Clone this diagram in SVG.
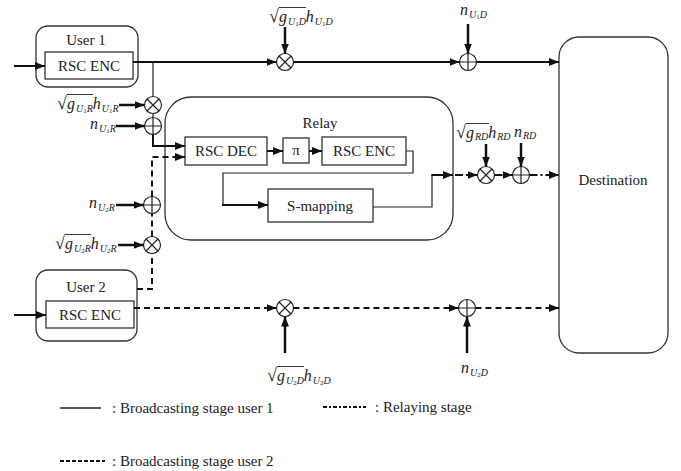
<svg xmlns="http://www.w3.org/2000/svg" width="681" height="471" viewBox="0 0 681 471" font-family="'Liberation Serif', 'Times New Roman', serif">
<defs>
<marker id="ah" viewBox="0 0 10 8" refX="10" refY="4" markerWidth="10" markerHeight="8" markerUnits="userSpaceOnUse" orient="auto"><path d="M0,0 L10,4 L0,8 Z" fill="#111"/></marker>
<style>
text{font-family:'Liberation Serif','Times New Roman',serif;fill:#222}
.t{font-size:15px}
.m{font-size:16px;font-style:italic}
.s{font-size:10px;font-style:italic}
.s1{font-size:7px;font-style:normal}
.rt{font-size:18px;font-style:normal}
.box{fill:#fff;stroke:#333;stroke-width:1.3}
.sol{fill:none;stroke:#111;stroke-width:2}
.thin{fill:none;stroke:#222;stroke-width:1.2}
.dash{fill:none;stroke:#111;stroke-width:2;stroke-dasharray:6,4}
.dd{fill:none;stroke:#111;stroke-width:2;stroke-dasharray:8,3,2,3}
.inp{fill:none;stroke:#111;stroke-width:2.5}
.op{fill:#fff;stroke:#222;stroke-width:1.2}
.ov{stroke:#222;stroke-width:0.9}
</style>
</defs>

<g id="user1">
<rect class="box" x="36" y="26" width="102" height="61" rx="12"/>
<text class="t" x="86" y="45" text-anchor="middle">User 1</text>
<rect class="box" x="45" y="52" width="88" height="27"/>
<text class="t" x="89" y="71" text-anchor="middle">RSC ENC</text>
</g>

<g id="user2">
<rect class="box" x="36" y="270" width="101" height="71" rx="12"/>
<text class="t" x="86" y="292" text-anchor="middle">User 2</text>
<rect class="box" x="46" y="301" width="88" height="27"/>
<text class="t" x="90" y="320" text-anchor="middle">RSC ENC</text>
</g>

<g id="relay">
<rect class="box" x="165" y="97" width="288" height="143" rx="26"/>
<text class="t" x="320" y="128" text-anchor="middle">Relay</text>
</g>
<g id="rscdec">
<rect class="box" x="185" y="137" width="82" height="28"/>
<text class="t" x="226" y="156" text-anchor="middle">RSC DEC</text>
</g>
<g id="pi">
<rect class="box" x="283" y="138" width="26" height="25"/>
<text class="t" x="296" y="155" text-anchor="middle">π</text>
</g>
<g id="rscenc_relay">
<rect class="box" x="322" y="137" width="84" height="28"/>
<text class="t" x="364" y="156" text-anchor="middle">RSC ENC</text>
</g>
<g id="smapping">
<rect class="box" x="268" y="189" width="105" height="33"/>
<text class="t" x="320" y="211" text-anchor="middle">S-mapping</text>
</g>
<g id="destination">
<rect class="box" x="559" y="37" width="109" height="316" rx="20"/>
<text class="t" x="613" y="185" text-anchor="middle">Destination</text>
</g>

<g id="operators">
<g id="mul_u1d"><circle class="op" cx="285" cy="62" r="8.5"/><path class="thin" d="M279,56 L291,68 M291,56 L279,68"/></g>
<g id="add_u1d"><circle class="op" cx="468" cy="62" r="8.5"/><path class="thin" d="M468,53.5 V70.5 M459.5,62 H476.5"/></g>
<g id="mul_u1r"><circle class="op" cx="153" cy="105" r="8.5"/><path class="thin" d="M147,99 L159,111 M159,99 L147,111"/></g>
<g id="add_u1r"><circle class="op" cx="153" cy="126" r="8.5"/><path class="thin" d="M153,117.5 V134.5 M144.5,126 H161.5"/></g>
<g id="add_u2r"><circle class="op" cx="152" cy="205" r="8.5"/><path class="thin" d="M152,196.5 V213.5 M143.5,205 H160.5"/></g>
<g id="mul_u2r"><circle class="op" cx="152" cy="245" r="8.5"/><path class="thin" d="M146,239 L158,251 M158,239 L146,251"/></g>
<g id="mul_rd"><circle class="op" cx="486" cy="175" r="8.5"/><path class="thin" d="M480,169 L492,181 M492,169 L480,181"/></g>
<g id="add_rd"><circle class="op" cx="521" cy="175" r="8.5"/><path class="thin" d="M521,166.5 V183.5 M512.5,175 H529.5"/></g>
<g id="mul_u2d"><circle class="op" cx="285" cy="308" r="8.5"/><path class="thin" d="M279,302 L291,314 M291,302 L279,314"/></g>
<g id="add_u2d"><circle class="op" cx="467" cy="308" r="8.5"/><path class="thin" d="M467,299.5 V316.5 M458.5,308 H475.5"/></g>
</g>

<g id="connectors">
<path class="sol" d="M14,66 H45" marker-end="url(#ah)"/>
<path class="sol" d="M14,315 H46" marker-end="url(#ah)"/>
<path class="sol" d="M133,62 H276.5" marker-end="url(#ah)"/>
<path class="sol" d="M293.5,62 H459.5" marker-end="url(#ah)"/>
<path class="sol" d="M476.5,62 H559" marker-end="url(#ah)"/>
<path class="thin" d="M153,62 V96.5 M153,113.5 V117.5"/>
<path class="sol" d="M153,134.5 V146 H185" marker-end="url(#ah)"/>
<path class="dash" d="M137,289 H152 V253.5 M152,236.5 V213.5"/>
<path class="dash" d="M152,196.5 V157 H185" marker-end="url(#ah)"/>
<path class="dash" d="M134,308 H276.5" marker-end="url(#ah)"/>
<path class="dash" d="M293.5,308 H458.5" marker-end="url(#ah)"/>
<path class="dash" d="M475.5,308 H559" marker-end="url(#ah)"/>
<path class="sol" d="M267,151 H283" marker-end="url(#ah)"/>
<path class="sol" d="M309,151 H322" marker-end="url(#ah)"/>
<path class="thin" d="M406,151 H413 V173 H223 V205"/>
<path class="sol" d="M222,205 H268" marker-end="url(#ah)"/>
<path class="thin" d="M373,207 H432 V175"/>
<path class="sol" d="M431.4,175 H453" marker-end="url(#ah)"/>
<path class="dd" d="M455,175 H477.5" marker-end="url(#ah)"/>
<path class="dd" d="M494.5,175 H512.5" marker-end="url(#ah)"/>
<path class="dd" d="M529.5,175 H559" marker-end="url(#ah)"/>
<path class="inp" d="M285,27 V53.5" marker-end="url(#ah)"/>
<path class="inp" d="M468,24 V53.5" marker-end="url(#ah)"/>
<path class="inp" d="M119,105 H144.5" marker-end="url(#ah)"/>
<path class="inp" d="M116,126 H144.5" marker-end="url(#ah)"/>
<path class="inp" d="M116,205 H143.5" marker-end="url(#ah)"/>
<path class="inp" d="M118,245 H143.5" marker-end="url(#ah)"/>
<path class="inp" d="M486,144 V166.5" marker-end="url(#ah)"/>
<path class="inp" d="M521,143 V166.5" marker-end="url(#ah)"/>
<path class="inp" d="M285,353 V316.5" marker-end="url(#ah)"/>
<path class="inp" d="M467,353 V316.5" marker-end="url(#ah)"/>
</g>

<g id="labels">
<!-- sqrt(g_U1D) h_U1D -->
<text x="269" y="22"><tspan class="rt">√</tspan><tspan class="m">g</tspan><tspan class="s" dx="1" dy="2.5">U</tspan><tspan class="s1" dy="1.5">1</tspan><tspan class="s" dy="-1.5">D</tspan><tspan class="m" dy="-2.5">h</tspan><tspan class="s" dx="1" dy="2.5">U</tspan><tspan class="s1" dy="1.5">1</tspan><tspan class="s" dy="-1.5">D</tspan></text>
<line class="ov" x1="278.8" y1="7.5" x2="306" y2="7.5"/>
<!-- n_U1D -->
<text x="460" y="15"><tspan class="m">n</tspan><tspan class="s" dx="1" dy="2.5">U</tspan><tspan class="s1" dy="1.5">1</tspan><tspan class="s" dy="-1.5">D</tspan></text>
<!-- sqrt(g_U1R) h_U1R -->
<text x="57" y="109"><tspan class="rt">√</tspan><tspan class="m">g</tspan><tspan class="s" dx="1" dy="2.5">U</tspan><tspan class="s1" dy="1.5">1</tspan><tspan class="s" dy="-1.5">R</tspan><tspan class="m" dy="-2.5">h</tspan><tspan class="s" dx="1" dy="2.5">U</tspan><tspan class="s1" dy="1.5">1</tspan><tspan class="s" dy="-1.5">R</tspan></text>
<line class="ov" x1="66.8" y1="94.5" x2="93" y2="94.5"/>
<!-- n_U1R -->
<text x="90" y="129"><tspan class="m">n</tspan><tspan class="s" dx="1" dy="2.5">U</tspan><tspan class="s1" dy="1.5">1</tspan><tspan class="s" dy="-1.5">R</tspan></text>
<!-- n_U2R -->
<text x="89" y="208"><tspan class="m">n</tspan><tspan class="s" dx="1" dy="2.5">U</tspan><tspan class="s1" dy="1.5">2</tspan><tspan class="s" dy="-1.5">R</tspan></text>
<!-- sqrt(g_U2R) h_U2R -->
<text x="55" y="249"><tspan class="rt">√</tspan><tspan class="m">g</tspan><tspan class="s" dx="1" dy="2.5">U</tspan><tspan class="s1" dy="1.5">2</tspan><tspan class="s" dy="-1.5">R</tspan><tspan class="m" dy="-2.5">h</tspan><tspan class="s" dx="1" dy="2.5">U</tspan><tspan class="s1" dy="1.5">2</tspan><tspan class="s" dy="-1.5">R</tspan></text>
<line class="ov" x1="64.8" y1="234.5" x2="91" y2="234.5"/>
<!-- sqrt(g_RD) h_RD -->
<text x="456" y="138"><tspan class="rt">√</tspan><tspan class="m">g</tspan><tspan class="s" dx="1" dy="2">RD</tspan><tspan class="m" dy="-2">h</tspan><tspan class="s" dx="1" dy="2">RD</tspan></text>
<line class="ov" x1="465.8" y1="123.5" x2="489" y2="123.5"/>
<!-- n_RD -->
<text x="514" y="137"><tspan class="m">n</tspan><tspan class="s" dx="1" dy="2">RD</tspan></text>
<!-- sqrt(g_U2D) h_U2D -->
<text x="267" y="381"><tspan class="rt">√</tspan><tspan class="m">g</tspan><tspan class="s" dx="1" dy="2.5">U</tspan><tspan class="s1" dy="1.5">2</tspan><tspan class="s" dy="-1.5">D</tspan><tspan class="m" dy="-2.5">h</tspan><tspan class="s" dx="1" dy="2.5">U</tspan><tspan class="s1" dy="1.5">2</tspan><tspan class="s" dy="-1.5">D</tspan></text>
<line class="ov" x1="276.8" y1="366.5" x2="304" y2="366.5"/>
<!-- n_U2D -->
<text x="461" y="373"><tspan class="m">n</tspan><tspan class="s" dx="1" dy="2.5">U</tspan><tspan class="s1" dy="1.5">2</tspan><tspan class="s" dy="-1.5">D</tspan></text>
</g>

<g id="legend">
<line x1="60" y1="408" x2="101" y2="408" stroke="#222" stroke-width="1.3"/>
<text class="t" x="112" y="413">: Broadcasting stage user 1</text>
<line x1="323" y1="407" x2="366" y2="407" stroke="#111" stroke-width="2" stroke-dasharray="4,2,2,2"/>
<text class="t" x="375" y="412">: Relaying stage</text>
<line x1="60" y1="461" x2="105" y2="461" stroke="#111" stroke-width="2" stroke-dasharray="4,2"/>
<text class="t" x="112" y="466">: Broadcasting stage user 2</text>
</g>
</svg>
